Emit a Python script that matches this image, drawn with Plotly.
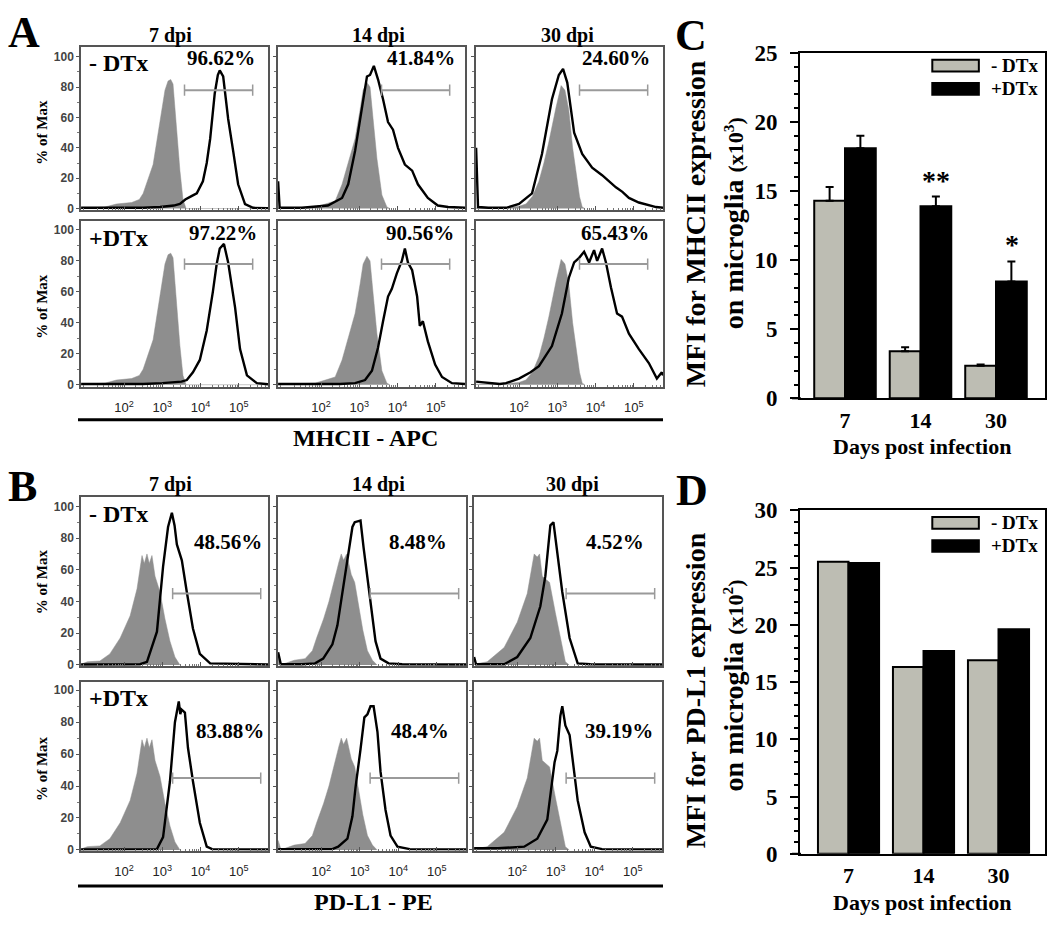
import math
import plotly.graph_objects as go

W, H = 1050, 931
SERIF = "Liberation Serif, Times New Roman, serif"
SANS = "Liberation Sans, Arial, sans-serif"

# ---------------- data: flow histograms (x in log10 units, y in % of max) ----------------
# Panel A (MHCII - APC)
A7_gray_lx = [0.88, 1.5, 1.8, 2.2, 2.4, 2.5, 2.76, 2.94, 3.07, 3.15, 3.22, 3.28, 3.38, 3.46, 3.54, 3.62, 5.76]
A7_gray_y = [0.3, 1, 3, 4, 6, 10, 29, 59, 78, 84, 85, 82, 48, 25, 6, 0, 0]
A7m_lx = [0.88, 2.5, 2.94, 3.3, 3.46, 3.6, 3.75, 3.9, 4.06, 4.16, 4.25, 4.37, 4.45, 4.5, 4.59, 4.72, 4.85, 4.98, 5.16, 5.37, 5.76]
A7m_y = [0.5, 0.5, 1, 2, 3, 6, 8, 10, 18, 30, 46, 76, 88, 91, 87, 59, 38, 16, 3, 0.5, 0.3]
A7p_lx = [0.88, 2.5, 3.0, 3.3, 3.5, 3.64, 3.8, 3.98, 4.16, 4.32, 4.42, 4.5, 4.61, 4.72, 4.9, 5.03, 5.21, 5.47, 5.76]
A7p_y = [0.5, 0.5, 1, 1.5, 2, 3, 8, 16, 35, 60, 78, 88, 91, 79, 50, 23, 6, 1, 0.3]

A14_gray_lx = [0.88, 1.5, 1.84, 2.05, 2.37, 2.55, 2.71, 2.89, 3.02, 3.1, 3.2, 3.28, 3.36, 3.46, 3.59, 3.72, 3.8]
A14_gray_y = [0.3, 0.5, 1, 2.5, 5, 16, 31, 46, 65, 78, 83, 80, 59, 33, 9, 1, 0]
A14m_lx = [0.88, 0.92, 1.5, 2.18, 2.55, 2.71, 2.89, 3.07, 3.2, 3.28, 3.38, 3.49, 3.62, 3.75, 3.88, 4.01, 4.19, 4.38, 4.53, 4.79, 5.05, 5.32, 5.76]
A14m_y = [18, 0.5, 0.5, 2, 7, 16, 38, 65, 87, 88, 94, 85, 72, 57, 52, 40, 29, 25, 16, 7, 2, 1, 0.5]
A14p_lx = [0.88, 2.5, 2.89, 3.15, 3.33, 3.49, 3.62, 3.75, 3.85, 3.98, 4.11, 4.19, 4.27, 4.38, 4.51, 4.58, 4.66, 4.79, 4.98, 5.16, 5.42, 5.76]
A14p_y = [0.5, 0.5, 1, 3, 9, 24, 41, 57, 62, 72, 80, 88, 79, 74, 57, 38, 41, 28, 13, 5, 1, 0.5]

A30_gray_lx = [0.88, 1.6, 2.0, 2.18, 2.35, 2.52, 2.65, 2.78, 2.97, 3.1, 3.2, 3.3, 3.4, 3.49, 3.58, 3.65, 3.72]
A30_gray_y = [0.3, 0.5, 1.5, 3, 8, 18, 30, 44, 67, 81, 78, 65, 40, 23, 8, 1, 0]
A30m_lx = [0.88, 0.93, 1.2, 1.66, 2.0, 2.34, 2.6, 2.86, 3.04, 3.15, 3.26, 3.44, 3.65, 3.91, 4.17, 4.35, 4.53, 4.7, 4.87, 5.13, 5.58, 5.76]
A30m_y = [40, 1, 0.5, 0.5, 3, 10, 36, 72, 88, 92, 83, 50, 36, 27, 22, 18, 14, 11, 7, 4, 1, 0.5]
A30p_lx = [0.88, 1.5, 1.66, 2.0, 2.3, 2.52, 2.86, 3.12, 3.3, 3.44, 3.57, 3.7, 3.83, 3.96, 4.04, 4.17, 4.27, 4.4, 4.56, 4.69, 4.87, 5.13, 5.39, 5.6, 5.73, 5.76]
A30p_y = [2, 0.5, 1, 4, 8, 12, 25, 46, 69, 79, 82, 86, 79, 87, 80, 88, 79, 63, 46, 44, 33, 23, 14, 4, 8, 6]

# Panel B (PD-L1 - PE)
B7_gray_lx = [0.88, 1.04, 1.37, 1.63, 1.9, 2.16, 2.34, 2.47, 2.53, 2.6, 2.66, 2.73, 2.81, 2.94, 3.07, 3.2, 3.33, 3.46]
B7_gray_y = [0.5, 2, 2.5, 7, 17, 31, 48, 69, 64, 70, 64, 69, 56, 46, 29, 15, 5, 0]
B7m_lx = [0.88, 2.42, 2.6, 2.86, 3.02, 3.15, 3.25, 3.32, 3.38, 3.51, 3.64, 3.8, 3.98, 4.25, 5.76]
B7m_y = [0.3, 0.5, 2, 21, 62, 87, 96, 88, 76, 66, 46, 23, 7, 1, 0.3]
B7p_lx = [0.88, 2.86, 3.02, 3.2, 3.33, 3.43, 3.47, 3.5, 3.59, 3.67, 3.8, 3.98, 4.16, 4.3, 5.76]
B7p_y = [0.3, 0.5, 8, 43, 80, 93, 85, 88, 86, 64, 43, 17, 2, 0.5, 0.3]

B14_gray_lx = [0.88, 0.95, 1.06, 1.3, 1.58, 1.77, 1.88, 2.06, 2.2, 2.33, 2.46, 2.52, 2.58, 2.66, 2.78, 2.87, 2.97, 3.08, 3.2, 3.33, 3.45]
B14_gray_y = [6, 0.5, 1, 3, 4, 9, 17, 29, 40, 53, 65, 70, 66, 70, 57, 52, 38, 22, 9, 3, 0]
B14m_lx = [0.88, 0.95, 1.5, 1.84, 2.05, 2.29, 2.42, 2.55, 2.68, 2.81, 2.87, 3.02, 3.1, 3.2, 3.31, 3.41, 3.54, 3.75, 4.1, 5.76]
B14m_y = [8, 0.5, 0.5, 1, 4, 13, 25, 46, 68, 87, 90, 91, 74, 56, 33, 15, 4, 1, 0.5, 0.3]
B14p_lx = [0.88, 2.29, 2.44, 2.68, 2.81, 2.89, 3.02, 3.12, 3.2, 3.28, 3.36, 3.46, 3.54, 3.67, 3.8, 3.98, 4.3, 5.76]
B14p_y = [0.5, 0.5, 2, 7, 21, 39, 63, 83, 85, 90, 90, 74, 49, 25, 9, 2, 0.5, 0.3]

B30_gray_lx = [0.88, 1.22, 1.66, 2.0, 2.26, 2.44, 2.52, 2.58, 2.65, 2.84, 2.99, 3.12, 3.25, 3.35]
B30_gray_y = [0.5, 2, 11, 27, 45, 70, 68, 70, 56, 52, 33, 17, 2, 0]
B30m_lx = [0.88, 0.93, 1.66, 2.0, 2.34, 2.6, 2.73, 2.86, 2.94, 3.04, 3.17, 3.36, 3.57, 3.9, 5.76]
B30m_y = [5, 0.5, 0.5, 5, 17, 37, 56, 88, 90, 72, 46, 17, 1, 0.5, 0.3]
B30p_lx = [0.88, 1.5, 2.18, 2.52, 2.78, 2.97, 3.04, 3.12, 3.17, 3.25, 3.36, 3.44, 3.57, 3.75, 3.91, 4.2, 5.76]
B30p_y = [1, 1, 2, 7, 19, 55, 62, 84, 90, 78, 72, 55, 31, 11, 2, 0.5, 0.3]

A_pct_minus = ["96.62%", "41.84%", "24.60%"]
A_pct_plus = ["97.22%", "90.56%", "65.43%"]
B_pct_minus = ["48.56%", "8.48%", "4.52%"]
B_pct_plus = ["83.88%", "48.4%", "39.19%"]
A_gate = [3.58, 5.36, 78]
B_gate = [3.27, 5.57, 45]
col_titles = ["7 dpi", "14 dpi", "30 dpi"]
row_labels = ["- DTx", "+DTx"]
hist_ticks = [2, 3, 4, 5]

# ---------------- data: bar charts ----------------
days = ["7", "14", "30"]
C_minus = [14.3, 3.4, 2.35]
C_minus_err = [1.0, 0.3, 0.1]
C_plus = [18.1, 13.9, 8.45]
C_plus_err = [0.9, 0.7, 1.45]
C_sig = ["", "**", "*"]
D_minus = [25.5, 16.3, 16.9]
D_plus = [25.4, 17.7, 19.6]
series_names = ["- DTx", "+DTx"]

GRAY_FILL = "#8e8e8e"
BAR_GRAY = "#bdbdb3"


def pxx(p):
    return p / W


def pxy(p):
    return 1 - p / H


def ax_names(i):
    s = "" if i == 1 else str(i)
    return "x" + s, "y" + s, "xaxis" + s, "yaxis" + s


fig = go.Figure()
annotations = []
shapes = []
layout = {}

A_cols = [(81, 268), (278, 465), (476, 663)]
B_cols = [(81, 268), (278, 466), (474, 662)]
# row: (top px, bottom px, zero px, hundred px)
A_rows = [(36, 203, 202, 46), (215, 385, 383, 224)]
B_rows = [(498, 672, 671, 508), (688, 862, 861, 697)]

hist = {
    "A": {
        "gray": [(A7_gray_lx, A7_gray_y), (A14_gray_lx, A14_gray_y), (A30_gray_lx, A30_gray_y)],
        "black": [[(A7m_lx, A7m_y), (A14m_lx, A14m_y), (A30m_lx, A30m_y)],
                  [(A7p_lx, A7p_y), (A14p_lx, A14p_y), (A30p_lx, A30p_y)]],
        "pct": [A_pct_minus, A_pct_plus],
        "pct_pos": [[(0.75, 0.93), (0.765, 0.93), (0.75, 0.93)], [(0.76, 0.93), (0.76, 0.93), (0.745, 0.93)]],
        "gate": A_gate, "cols": A_cols, "rows": A_rows,
    },
    "B": {
        "gray": [(B7_gray_lx, B7_gray_y), (B14_gray_lx, B14_gray_y), (B30_gray_lx, B30_gray_y)],
        "black": [[(B7m_lx, B7m_y), (B14m_lx, B14m_y), (B30m_lx, B30m_y)],
                  [(B7p_lx, B7p_y), (B14p_lx, B14p_y), (B30p_lx, B30p_y)]],
        "pct": [B_pct_minus, B_pct_plus],
        "pct_pos": [[(0.786, 0.73), (0.745, 0.73), (0.75, 0.73)], [(0.797, 0.71), (0.755, 0.71), (0.77, 0.71)]],
        "gate": B_gate, "cols": B_cols, "rows": B_rows,
    },
}

minor_vals = [k * 10 ** e for e in range(0, 6) for k in range(2, 10) if 0.88 < e + math.log10(k) < 5.76]

idx = 0
for pname in ["A", "B"]:
    P = hist[pname]
    for r in range(2):
        top, bot, zero, hund = P["rows"][r]
        u = (zero - hund) / 100.0
        yr = [-(bot - zero) / u, (zero - top) / u]
        for c in range(3):
            idx += 1
            xl, xr = P["cols"][c]
            xa, ya, xk, yk = ax_names(idx)
            layout[xk] = dict(
                type="log", range=[0.877, 5.76], domain=[pxx(xl), pxx(xr)], anchor=ya,
                showline=True, mirror=True, linecolor="#555", linewidth=1.5,
                showgrid=False, zeroline=False, ticks="inside", ticklen=4, tickcolor="#555",
                tickvals=[10 ** v for v in hist_ticks],
                ticktext=[f"10<sup>{v}</sup>" for v in hist_ticks],
                showticklabels=(r == 1), ticklabelstandoff=8,
                tickfont=dict(family=SANS, size=13, color="#222"),
                minor=dict(ticks="inside", ticklen=2, tickcolor="#777", tickvals=minor_vals),
            )
            layout[yk] = dict(
                range=yr, domain=[pxy(bot), pxy(top)], anchor=xa,
                showline=True, mirror=True, linecolor="#555", linewidth=1.5,
                showgrid=False, zeroline=False, ticks="outside", ticklen=3, tickcolor="#555",
                tickvals=[0, 20, 40, 60, 80, 100], showticklabels=(c == 0),
                tickfont=dict(family=SANS, size=12, color="#444", weight="bold"),
                minor=dict(ticks="outside", ticklen=2, tickcolor="#777", dtick=10),
            )
            gx, gy = P["gray"][c]
            fig.add_trace(go.Scatter(
                x=[10 ** v for v in gx], y=gy, mode="lines", fill="tozeroy",
                fillcolor=GRAY_FILL, line=dict(color=GRAY_FILL, width=0.5),
                xaxis=xa, yaxis=ya, showlegend=False, hoverinfo="skip"))
            bx, by = P["black"][r][c]
            fig.add_trace(go.Scatter(
                x=[10 ** v for v in bx], y=by, mode="lines",
                line=dict(color="black", width=2.4),
                xaxis=xa, yaxis=ya, showlegend=False, hoverinfo="skip"))
            glo, ghi, gyv = P["gate"]
            fig.add_trace(go.Scatter(
                x=[10 ** glo, 10 ** ghi], y=[gyv, gyv], mode="lines+markers",
                line=dict(color="#9a9a9a", width=2),
                marker=dict(symbol="line-ns", size=8, line=dict(color="#9a9a9a", width=1.5)),
                xaxis=xa, yaxis=ya, showlegend=False, hoverinfo="skip"))
            px_, py_ = P["pct_pos"][r][c]
            annotations.append(dict(
                text=P["pct"][r][c], xref=f"{xa} domain", yref=f"{ya} domain",
                x=px_, y=py_, xanchor="center", yanchor="middle", showarrow=False,
                font=dict(family=SERIF, size=21, color="black", weight="bold")))
            if c == 0:
                annotations.append(dict(
                    text=row_labels[r], xref=f"{xa} domain", yref=f"{ya} domain",
                    x=0.03, y=0.9, xanchor="left", yanchor="middle", showarrow=False,
                    font=dict(family=SERIF, size=24, color="black", weight="bold")))

# column titles
for c, (cx, cy) in enumerate([(170, 24), (378, 24), (567, 24)]):
    annotations.append(dict(text=col_titles[c], xref="paper", yref="paper", x=pxx(cx), y=pxy(cy),
                            xanchor="center", yanchor="middle", showarrow=False,
                            font=dict(family=SERIF, size=20, color="black", weight="bold")))
for c, (cx, cy) in enumerate([(170, 486), (378, 486), (572, 486)]):
    annotations.append(dict(text=col_titles[c], xref="paper", yref="paper", x=pxx(cx), y=pxy(cy),
                            xanchor="center", yanchor="middle", showarrow=False,
                            font=dict(family=SERIF, size=20, color="black", weight="bold")))
# "% of Max"
for cy in [124, 303, 586, 778]:
    annotations.append(dict(text="% of Max", xref="paper", yref="paper", x=pxx(42), y=pxy(cy),
                            xanchor="center", yanchor="middle", showarrow=False, textangle=-90,
                            font=dict(family=SERIF, size=15, color="black", weight="bold")))
# x-axis underline + labels
for ly, txt, ty, tx in [(419, "MHCII - APC", 438, 365), (898, "PD-L1 - PE", 915, 373)]:
    shapes.append(dict(type="line", xref="paper", yref="paper", x0=pxx(78), x1=pxx(663),
                       y0=pxy(ly), y1=pxy(ly), line=dict(color="black", width=3)))
    annotations.append(dict(text=txt, xref="paper", yref="paper", x=pxx(tx), y=pxy(ty),
                            xanchor="center", yanchor="middle", showarrow=False,
                            font=dict(family=SERIF, size=24, color="black", weight="bold")))
# panel letters
for letter, lx, ly in [("A", 24, 21), ("B", 22, 488), ("C", 691, 24), ("D", 692, 492)]:
    annotations.append(dict(text=letter, xref="paper", yref="paper", x=pxx(lx), y=pxy(ly),
                            xanchor="center", yanchor="middle", showarrow=False,
                            font=dict(family=SERIF, size=44, color="black", weight="bold")))

# ---------------- bar charts ----------------
bar_specs = [
    (13, C_minus, C_plus, C_minus_err, C_plus_err, (42, 397), 25, [-0.596, 2.649],
     ["MFI for MHCII expression", "on microglia <span style='font-size:22px'>(x10<sup>3</sup>)</span>"],
     (218, 217), 446),
    (14, D_minus, D_plus, None, None, (512, 865), 30, [-0.647, 2.62],
     ["MFI for PD-L1 expression", "on microglia <span style='font-size:22px'>(x10<sup>2</sup>)</span>"],
     (697, 692), 915),
]
for n, ym, yp, em, ep, (ytop, ybot), ymax, xr, ytitle, (t1y, t2y), dcy in bar_specs:
    xa, ya, xk, yk = ax_names(n)
    err_m = dict(type="data", array=em, arrayminus=[0] * len(em), symmetric=False,
                 color="black", thickness=2, width=4) if em else None
    err_p = dict(type="data", array=ep, arrayminus=[0] * len(ep), symmetric=False,
                 color="black", thickness=2, width=4) if ep else None
    fig.add_trace(go.Bar(x=days, y=ym, name=series_names[0], marker=dict(color=BAR_GRAY, line=dict(color="black", width=2)),
                         error_y=err_m, xaxis=xa, yaxis=ya, showlegend=False, offsetgroup="m"))
    fig.add_trace(go.Bar(x=days, y=yp, name=series_names[1], marker=dict(color="black", line=dict(color="black", width=2)),
                         error_y=err_p, xaxis=xa, yaxis=ya, showlegend=False, offsetgroup="p"))
    layout[xk] = dict(
        type="category", range=xr, domain=[pxx(800), pxx(1045)], anchor=ya,
        showline=True, mirror=True, linecolor="black", linewidth=2, ticks="",
        showgrid=False, zeroline=False, ticklabelstandoff=1,
        tickfont=dict(family=SERIF, size=22, color="black", weight="bold"))
    layout[yk] = dict(
        range=[0, ymax], domain=[pxy(ybot), pxy(ytop)], anchor=xa,
        showline=True, mirror=True, linecolor="black", linewidth=2,
        ticks="outside", ticklen=8, tickwidth=2, tickcolor="black", dtick=5,
        showgrid=False, zeroline=False, ticklabelstandoff=8,
        tickfont=dict(family=SERIF, size=23, color="black", weight="bold"),
        minor=dict(ticks="outside", ticklen=4, tickwidth=1.5, tickcolor="black", dtick=1))
    # bottom axis line extends under the y ticks
    shapes.append(dict(type="line", xref="paper", yref="paper", x0=pxx(792), x1=pxx(801),
                       y0=pxy(ybot), y1=pxy(ybot), line=dict(color="black", width=2)))
    # y titles (two lines)
    annotations.append(dict(text=ytitle[0], xref="paper", yref="paper", x=pxx(695), y=pxy(t1y),
                            xanchor="center", yanchor="middle", showarrow=False, textangle=-90,
                            font=dict(family=SERIF, size=28, color="black", weight="bold")))
    annotations.append(dict(text=ytitle[1], xref="paper", yref="paper", x=pxx(733), y=pxy(t2y),
                            xanchor="center", yanchor="middle", showarrow=False, textangle=-90,
                            font=dict(family=SERIF, size=28, color="black", weight="bold")))
    annotations.append(dict(text="Days post infection", xref="paper", yref="paper", x=pxx(922), y=pxy(dcy),
                            xanchor="center", yanchor="middle", showarrow=False,
                            font=dict(family=SERIF, size=22, color="black", weight="bold")))
    # legend (custom swatches)
    for k, (col, yc) in enumerate([(BAR_GRAY, 0.963), ("black", 0.896)]):
        shapes.append(dict(type="rect", xref=f"{xa} domain", yref=f"{ya} domain",
                           x0=0.54, x1=0.73, y0=yc - 0.017, y1=yc + 0.017,
                           fillcolor=col, line=dict(color="black", width=2)))
        annotations.append(dict(text=series_names[k], xref=f"{xa} domain", yref=f"{ya} domain",
                                x=0.77, y=yc, xanchor="left", yanchor="middle", showarrow=False,
                                font=dict(family=SERIF, size=19, color="black", weight="bold")))

# significance stars for C
for i, s in enumerate(C_sig):
    if s:
        annotations.append(dict(text=s, xref="x13", yref="y13", x=i + 0.21, y=C_plus[i] + C_plus_err[i] + 1.2,
                                xanchor="center", yanchor="middle", showarrow=False,
                                font=dict(family=SERIF, size=28, color="black", weight="bold")))

fig.update_layout(
    width=W, height=H, margin=dict(l=0, r=0, t=0, b=0),
    paper_bgcolor="white", plot_bgcolor="white",
    barmode="group", bargap=0.185, bargroupgap=0,
    annotations=annotations, shapes=shapes, **layout)

fig.write_html("out.html", config={"displayModeBar": False},
               post_script="document.body.style.margin='0';")
